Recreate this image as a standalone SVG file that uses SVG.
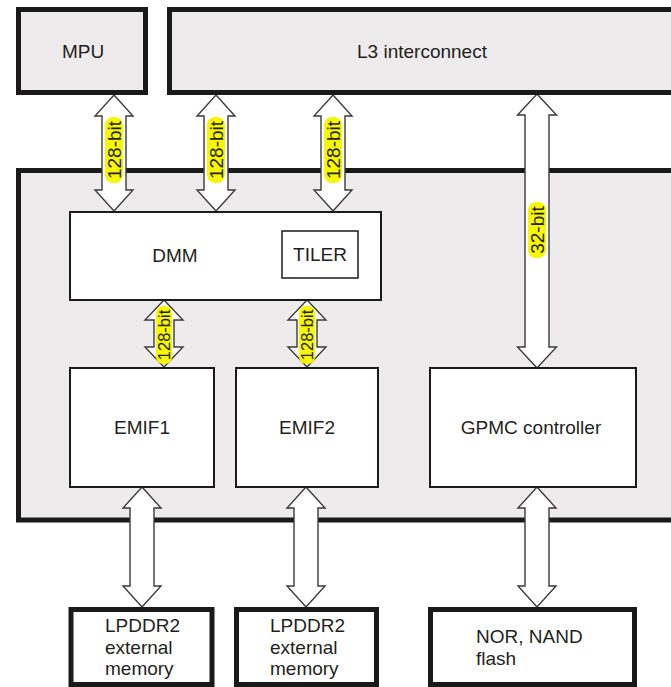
<svg xmlns="http://www.w3.org/2000/svg" width="671" height="687" viewBox="0 0 671 687">
<style>
.thick{fill:#edebec;stroke:#1a1a1a;stroke-width:5}
.thickw{fill:#ffffff;stroke:#1a1a1a;stroke-width:5}
.thin{fill:#ffffff;stroke:#1a1a1a;stroke-width:2}
.arrow{fill:#ffffff;stroke:#3a3a3a;stroke-width:1.4;stroke-linejoin:miter}
.t{font-family:"Liberation Sans",Arial,sans-serif;font-size:19px;fill:#231f20}
.c{text-anchor:middle}
.lbl{font-family:"Liberation Sans",Arial,sans-serif;fill:#231f20;text-anchor:middle;dominant-baseline:central}
.hl{fill:#f7f700}
</style>
<rect width="671" height="687" fill="#ffffff"/>
<g id="soc">
<rect class="thick" x="18.5" y="170.5" width="680" height="349.5"/>
</g>
<g id="connectors">
<path class="arrow" d="M114,95 L133,116 L126,116 L126,190 L133,190 L114,211 L95,190 L102,190 L102,116 L95,116 Z"/>
<rect class="hl" x="105" y="117" width="18" height="66" rx="8"/>
<text class="lbl" font-size="19" transform="translate(114,150) rotate(-90)">128-bit</text>
<path class="arrow" d="M216,95 L235,116 L228,116 L228,190 L235,190 L216,211 L197,190 L204,190 L204,116 L197,116 Z"/>
<rect class="hl" x="207" y="117" width="18" height="66" rx="8"/>
<text class="lbl" font-size="19" transform="translate(216,150) rotate(-90)">128-bit</text>
<path class="arrow" d="M333,95 L352,116 L345,116 L345,190 L352,190 L333,211 L314,190 L321,190 L321,116 L314,116 Z"/>
<rect class="hl" x="324" y="117" width="18" height="66" rx="8"/>
<text class="lbl" font-size="19" transform="translate(333,150) rotate(-90)">128-bit</text>
<path class="arrow" d="M537,94 L556.5,115 L549,115 L549,347 L556.5,347 L537,368 L517.5,347 L525,347 L525,115 L517.5,115 Z"/>
<rect class="hl" x="528" y="202" width="18" height="56" rx="8"/>
<text class="lbl" font-size="19" transform="translate(537,230) rotate(-90)">32-bit</text>
<path class="arrow" d="M164,300 L183,320 L174,320 L174,347 L183,347 L164,367 L145,347 L154,347 L154,320 L145,320 Z"/>
<rect class="hl" x="156" y="306" width="16" height="58" rx="7"/>
<text class="lbl" font-size="16.5" transform="translate(164,335) rotate(-90)">128-bit</text>
<path class="arrow" d="M307,300 L326,320 L317,320 L317,347 L326,347 L307,367 L288,347 L297,347 L297,320 L288,320 Z"/>
<rect class="hl" x="299" y="306" width="16" height="58" rx="7"/>
<text class="lbl" font-size="16.5" transform="translate(307,335) rotate(-90)">128-bit</text>
<path class="arrow" d="M142,487 L161,508 L154,508 L154,586 L161,586 L142,607 L123,586 L130,586 L130,508 L123,508 Z"/>
<path class="arrow" d="M306,487 L325,508 L318,508 L318,586 L325,586 L306,607 L287,586 L294,586 L294,508 L287,508 Z"/>
<path class="arrow" d="M537,487 L556,508 L549,508 L549,586 L556,586 L537,607 L518,586 L525,586 L525,508 L518,508 Z"/>
</g>
<g id="mpu">
<rect class="thick" x="18.5" y="9.5" width="127" height="83"/>
<text class="t c" x="83" y="58">MPU</text>
</g>
<g id="l3">
<rect class="thick" x="169.5" y="9.5" width="520" height="83"/>
<text class="t c" x="422" y="58">L3 interconnect</text>
</g>
<g id="dmm">
<rect class="thin" x="70" y="212" width="311" height="88"/>
<text class="t c" x="175" y="262">DMM</text>
</g>
<g id="tiler">
<rect fill="#ffffff" stroke="#1a1a1a" stroke-width="1.5" x="282" y="231" width="76" height="47"/>
<text class="t c" x="320" y="261">TILER</text>
</g>
<g id="emif1">
<rect class="thin" x="70" y="368" width="144" height="119"/>
<text class="t c" x="142" y="434">EMIF1</text>
</g>
<g id="emif2">
<rect class="thin" x="236" y="368" width="142" height="119"/>
<text class="t c" x="307" y="434">EMIF2</text>
</g>
<g id="gpmc">
<rect class="thin" x="430" y="368" width="206" height="119"/>
<text class="t c" x="531" y="434">GPMC controller</text>
</g>
<g id="lpddr2a">
<rect class="thickw" x="71" y="609.5" width="141" height="75"/>
<text class="t" x="105" y="632">LPDDR2</text>
<text class="t" x="105" y="654">external</text>
<text class="t" x="105" y="675">memory</text>
</g>
<g id="lpddr2b">
<rect class="thickw" x="236.5" y="609.5" width="140" height="75"/>
<text class="t" x="270" y="632">LPDDR2</text>
<text class="t" x="270" y="654">external</text>
<text class="t" x="270" y="675">memory</text>
</g>
<g id="flash">
<rect class="thickw" x="430.5" y="609.5" width="204" height="75"/>
<text class="t" x="476" y="643">NOR, NAND</text>
<text class="t" x="476" y="665">flash</text>
</g>
</svg>
